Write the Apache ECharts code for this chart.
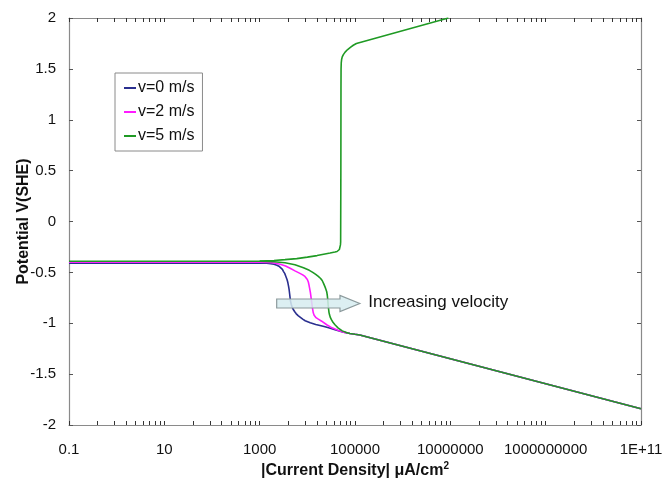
<!DOCTYPE html>
<html><head><meta charset="utf-8">
<script src="https://cdn.jsdelivr.net/npm/echarts@6/dist/echarts.min.js"></script>
<style>html,body{margin:0;padding:0;background:#fff}#c{width:663px;height:479px}</style>
</head><body><div id="c"></div>
<script>
var FONT = 'Liberation Sans, Arial, sans-serif';
var seriesNames = ['v=0 m/s', 'v=2 m/s', 'v=5 m/s'];
var colors = ['#2a2f8f', '#ff1aff', '#1f9a24'];
var xTickLabels = [0.1, 10, 1000, 100000, 10000000, 1000000000, 100000000000];

// shared Tafel (cathodic) tail
var tafelTail = [[126000, -1.115], [1e11, -1.84]];

var blueData = [[0.1, -0.41], [1000, -0.41], [1400, -0.411], [1700, -0.414], [2000, -0.42], [2300, -0.43], [2600, -0.443], [2800, -0.455], [3000, -0.47], [3150, -0.49], [3350, -0.51], [3550, -0.54], [3750, -0.57], [3900, -0.60], [4050, -0.64], [4150, -0.67], [4250, -0.71], [4350, -0.75], [4450, -0.785], [4600, -0.815], [4800, -0.84], [5000, -0.86], [5400, -0.885], [5800, -0.905], [6400, -0.925], [7000, -0.94], [8000, -0.96], [9000, -0.975], [11500, -0.995], [15000, -1.012], [21500, -1.03], [28000, -1.045], [38000, -1.063], [55000, -1.085], [78000, -1.10], [100000, -1.108]].concat(tafelTail);

var pinkData = [[0.1, -0.40], [1000, -0.40], [1500, -0.402], [2000, -0.408], [2700, -0.42], [3500, -0.438], [4350, -0.46], [5500, -0.485], [7000, -0.51], [8000, -0.525], [8900, -0.54], [9500, -0.555], [10000, -0.57], [10500, -0.595], [10800, -0.62], [11200, -0.66], [11600, -0.70], [12000, -0.75], [12400, -0.80], [12800, -0.85], [13300, -0.895], [13800, -0.92], [14500, -0.935], [15200, -0.945], [17000, -0.96], [20000, -0.98], [25500, -1.015], [33000, -1.045], [44000, -1.068], [60000, -1.09], [78000, -1.10], [100000, -1.108]].concat(tafelTail);

var greenCathodic = [[0.1, -0.39], [1000, -0.39], [2000, -0.395], [3400, -0.405], [5500, -0.425], [8300, -0.455], [11000, -0.48], [13000, -0.50], [15000, -0.52], [17000, -0.54], [19000, -0.56], [20500, -0.58], [22000, -0.61], [23400, -0.64], [24500, -0.665], [25500, -0.69], [26300, -0.73], [26800, -0.77], [27400, -0.82], [27900, -0.86], [28500, -0.895], [29300, -0.92], [30500, -0.945], [32000, -0.965], [34500, -0.99], [38000, -1.015], [44000, -1.045], [54000, -1.075], [66000, -1.092], [78000, -1.10], [100000, -1.108]].concat(tafelTail);

var greenAnodic = [[1000, -0.388], [2000, -0.383], [3400, -0.375], [6000, -0.365], [10000, -0.35], [16000, -0.335], [23400, -0.32], [30000, -0.31], [38000, -0.30], [42000, -0.295], [45000, -0.285], [47000, -0.275], [48500, -0.26], [49500, -0.23], [50000, -0.20], [50500, 0.5], [50800, 1.3], [51000, 1.5], [51500, 1.56], [52500, 1.595], [54000, 1.618], [57000, 1.64], [62000, 1.665], [70000, 1.69], [80000, 1.712], [92000, 1.732], [107000, 1.75], [9100000, 2.0]];

// annotation arrow (data units)
var arrowStart = [2275, -0.806];
var arrowBodyEnd = 48400;
var arrowTip = 126000;
var arrowLabelPos = [190000, -0.79];
var arrowText = 'Increasing velocity';

// tick positions like the original (per two-decade span, k^2 steps)
var tickVals = [];
for (var e = -1; e < 11; e += 2) {
  for (var k = 1; k <= 10; k++) tickVals.push(Math.pow(10, e) * k * k);
}

function fmtX(v) {
  var e = Math.round(Math.log10(v));
  if (e >= 11) return '1E+' + e;
  if (e < 0) return String(Math.pow(10, e));
  return String(Math.round(v));
}

var chart = echarts.init(document.getElementById('c'));
var axisLineStyle = { color: '#8a8a8a', width: 1.2 };
var option = {
  animation: false,
  textStyle: { fontFamily: FONT },
  grid: { left: 69, right: 22, top: 18, bottom: 54, containLabel: false, outerBoundsMode: 'none' },
  legend: {
    orient: 'vertical', left: 115, top: 73,
    data: seriesNames,
    icon: 'rect', itemWidth: 12, itemHeight: 2, itemGap: 8,
    padding: [7, 8, 7, 9],
    borderColor: '#8a8a8a', borderWidth: 1, borderRadius: 0,
    textStyle: { fontSize: 16, color: '#111', fontFamily: FONT, padding: [0, 0, 0, -3] }
  },
  xAxis: [{
    type: 'log', logBase: 10, min: 0.1, max: 1e11, position: 'bottom',
    name: '{t|\u007CCurrent Density\u007C \u03bcA/cm}{s|2}', nameLocation: 'middle', nameGap: 36, nameMoveOverlap: false,
    nameTextStyle: { rich: { t: { fontSize: 16, fontWeight: 'bold', color: '#111', fontFamily: FONT }, s: { fontSize: 10, fontWeight: 'bold', color: '#111', fontFamily: FONT, verticalAlign: 'top', padding: [0, 0, 10, 0] } } },
    axisLine: { show: true, onZero: false, lineStyle: axisLineStyle },
    axisTick: { show: true, inside: true, length: 4, customValues: tickVals, lineStyle: { color: '#333' } },
    axisLabel: { show: true, customValues: xTickLabels, formatter: fmtX, fontSize: 15, color: '#111', margin: 17, fontFamily: FONT },
    splitLine: { show: false }
  }, {
    type: 'log', logBase: 10, min: 0.1, max: 1e11, position: 'top',
    axisLine: { show: true, onZero: false, lineStyle: axisLineStyle },
    axisTick: { show: true, inside: true, length: 4, customValues: tickVals, lineStyle: { color: '#333' } },
    axisLabel: { show: false }, splitLine: { show: false }
  }],
  yAxis: [{
    type: 'value', min: -2, max: 2, interval: 0.5, position: 'left',
    name: 'Potential V(SHE)', nameLocation: 'middle', nameGap: 37, nameMoveOverlap: false,
    nameTextStyle: { fontSize: 16, fontWeight: 'bold', color: '#111', fontFamily: FONT },
    axisLine: { show: true, onZero: false, lineStyle: axisLineStyle },
    axisTick: { show: true, inside: true, length: 4, lineStyle: { color: '#555' } },
    axisLabel: { fontSize: 15, color: '#111', margin: 13, fontFamily: FONT },
    splitLine: { show: false }
  }, {
    type: 'value', min: -2, max: 2, interval: 0.5, position: 'right',
    axisLine: { show: true, onZero: false, lineStyle: axisLineStyle },
    axisTick: { show: true, inside: true, length: 4, lineStyle: { color: '#555' } },
    axisLabel: { show: false }, splitLine: { show: false }
  }],
  series: [
    { name: seriesNames[0], type: 'line', data: blueData, showSymbol: false, smooth: false, color: colors[0], lineStyle: { width: 1.6 }, z: 2 },
    { name: seriesNames[1], type: 'line', data: pinkData, showSymbol: false, smooth: false, color: colors[1], lineStyle: { width: 1.6 }, z: 3 },
    { name: seriesNames[2], type: 'line', data: greenCathodic, showSymbol: false, smooth: false, color: colors[2], lineStyle: { width: 1.6 }, z: 4 },
    { name: seriesNames[2], type: 'line', data: greenAnodic, showSymbol: false, smooth: false, color: colors[2], lineStyle: { width: 1.6 }, z: 4 }
  ]
};
chart.setOption(option);

var p0 = chart.convertToPixel({ xAxisIndex: 0, yAxisIndex: 0 }, arrowStart);
var pb = chart.convertToPixel({ xAxisIndex: 0, yAxisIndex: 0 }, [arrowBodyEnd, arrowStart[1]]);
var pt = chart.convertToPixel({ xAxisIndex: 0, yAxisIndex: 0 }, [arrowTip, arrowStart[1]]);
var pl = chart.convertToPixel({ xAxisIndex: 0, yAxisIndex: 0 }, arrowLabelPos);
var hb = 4.5, hh = 8;
chart.setOption({
  graphic: [{
    type: 'polygon', z: 100,
    shape: { points: [[p0[0], p0[1] - hb], [pb[0], p0[1] - hb], [pb[0], p0[1] - hh], [pt[0], p0[1]], [pb[0], p0[1] + hh], [pb[0], p0[1] + hb], [p0[0], p0[1] + hb]] },
    style: { fill: 'rgba(214,236,240,0.85)', stroke: '#8c9a9c', lineWidth: 1.2 }
  }, {
    type: 'text', z: 100, x: pl[0], y: pl[1],
    style: { text: arrowText, fill: '#111', font: '17px ' + FONT, verticalAlign: 'middle', align: 'left' }
  }]
});
</script></body></html>
